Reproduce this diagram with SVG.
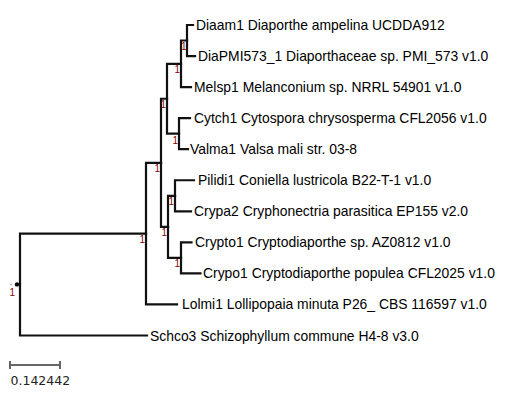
<svg xmlns="http://www.w3.org/2000/svg" width="512" height="411" viewBox="0 0 512 411">
<style>
.leaf{font-family:"Liberation Sans",Arial,sans-serif;font-size:13.9px;fill:#000}
.sup{font-family:"Liberation Sans",Arial,sans-serif;font-size:10px;fill:#8b0000;text-anchor:end}
.br{fill:none;stroke:#111;stroke-width:2.2;stroke-linecap:square}
.scale{fill:none;stroke:#666;stroke-width:2}
.scl{font-family:"DejaVu Sans",sans-serif;font-size:12.5px;fill:#222}
</style>
<rect width="512" height="411" fill="#fff"/>
<g id="connectors">
<path class="br" d="M20 284.5V233.6H146"/>
<path class="br" d="M20 284.5V335.5H147"/>
<path class="br" d="M146 233.6V162.8H161"/>
<path class="br" d="M146 233.6V304.45H177"/>
<path class="br" d="M161 162.8V98.75H167"/>
<path class="br" d="M161 162.8V226.85H168"/>
<path class="br" d="M167 98.75V63.8H181"/>
<path class="br" d="M167 98.75V133.7H179"/>
<path class="br" d="M181 63.8V40.5H187"/>
<path class="br" d="M181 63.8V87.1H191"/>
<path class="br" d="M187 40.5V25H193"/>
<path class="br" d="M187 40.5V56.05H195"/>
<path class="br" d="M179 133.7V118.15H190"/>
<path class="br" d="M179 133.7V149.2H188"/>
<path class="br" d="M168 226.85V195.8H175"/>
<path class="br" d="M168 226.85V257.9H181"/>
<path class="br" d="M175 195.8V180.25H194"/>
<path class="br" d="M175 195.8V211.3H191"/>
<path class="br" d="M181 257.9V242.35H191.5"/>
<path class="br" d="M181 257.9V273.4H200.5"/>
</g>
<g id="root">
<circle cx="11" cy="284.4" r="0.9" fill="#aaa"/>
<circle cx="17" cy="284.4" r="2.2" fill="#000"/>
<text class="sup" x="15" y="296">1</text>
</g>
<g id="nodeI"><text class="sup" x="145" y="242.5">1</text></g>
<g id="nodeH"><text class="sup" x="160" y="172">1</text></g>
<g id="nodeD"><text class="sup" x="166" y="108">1</text></g>
<g id="nodeB"><text class="sup" x="180" y="73">1</text></g>
<g id="nodeA"><text class="sup" x="186.5" y="49.5">1</text></g>
<g id="nodeC"><text class="sup" x="178" y="144">1</text></g>
<g id="nodeG"><text class="sup" x="167" y="236">1</text></g>
<g id="nodeE"><text class="sup" x="174" y="205">1</text></g>
<g id="nodeF"><text class="sup" x="180" y="267">1</text></g>
<g id="leaf-Diaam1"><text class="leaf" x="196" y="30">Diaam1 Diaporthe ampelina UCDDA912</text></g>
<g id="leaf-DiaPMI573_1"><text class="leaf" x="198" y="61">DiaPMI573_1 Diaporthaceae sp. PMI_573 v1.0</text></g>
<g id="leaf-Melsp1"><text class="leaf" x="194" y="92">Melsp1 Melanconium sp. NRRL 54901 v1.0</text></g>
<g id="leaf-Cytch1"><text class="leaf" x="194" y="123">Cytch1 Cytospora chrysosperma CFL2056 v1.0</text></g>
<g id="leaf-Valma1"><text class="leaf" x="190" y="154">Valma1 Valsa mali str. 03-8</text></g>
<g id="leaf-Pilidi1"><text class="leaf" x="198" y="185">Pilidi1 Coniella lustricola B22-T-1 v1.0</text></g>
<g id="leaf-Crypa2"><text class="leaf" x="194" y="216">Crypa2 Cryphonectria parasitica EP155 v2.0</text></g>
<g id="leaf-Crypto1"><text class="leaf" x="195" y="247">Crypto1 Cryptodiaporthe sp. AZ0812 v1.0</text></g>
<g id="leaf-Crypo1"><text class="leaf" x="203" y="278">Crypo1 Cryptodiaporthe populea CFL2025 v1.0</text></g>
<g id="leaf-Lolmi1"><text class="leaf" x="182" y="309">Lolmi1 Lollipopaia minuta P26_ CBS 116597 v1.0</text></g>
<g id="leaf-Schco3"><text class="leaf" x="150" y="340.5">Schco3 Schizophyllum commune H4-8 v3.0</text></g>
<g id="scalebar">
<path class="scale" d="M10 365H60M10 361V369M60 361V369"/>
<text class="scl" x="10.5" y="384.5">0.142442</text>
</g>
</svg>
